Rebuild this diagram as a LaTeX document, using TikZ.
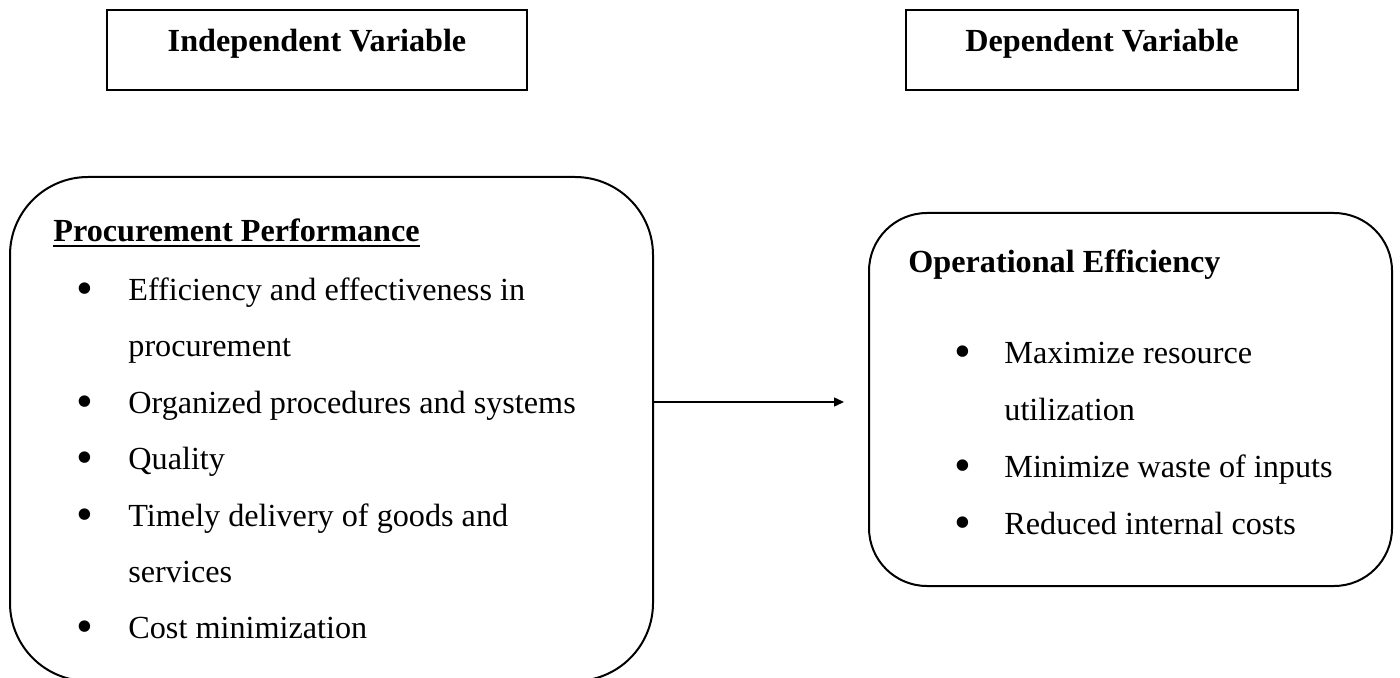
\documentclass[tikz,border=0pt]{standalone}
\usepackage{fontspec}
\setmainfont{Liberation Serif}
\usetikzlibrary{arrows.meta}
\newcommand\thickul[1]{\setbox0=\hbox{#1}\rlap{\rule[-2.6pt]{\wd0}{1.3pt}}\box0}
\begin{document}
\begin{tikzpicture}[x=0.5pt,y=-0.5pt,
  txt/.style={anchor=base west,inner sep=0pt,font=\fontsize{16.1}{19}\selectfont},
  hd/.style={txt,font=\fontsize{16.1}{19}\selectfont\bfseries},
  bul/.style={anchor=center,inner sep=0pt,font=\fontsize{24}{24}\selectfont},
  varbox/.style={draw,line width=1.3pt,inner xsep=0pt,inner ysep=0pt,minimum height=40pt,
    font=\fontsize{16.1}{19}\selectfont\bfseries,text height=21pt,text depth=19pt},
  roundbox/.style={draw,line width=1pt,inner sep=0pt},
  arr/.style={line width=0.7pt,-{Triangle[length=5pt,width=4.5pt]}}]
\useasboundingbox (0,0) rectangle (1400,678);
% top boxes
\node[varbox,minimum width=210pt] (iv) at (317,50) {Independent Variable};
\node[varbox,minimum width=196pt] (dv) at (1102,50) {Dependent Variable};
% rounded boxes
\node[roundbox,rounded corners=39pt,minimum width=321.5pt,minimum height=252pt] (L) at (331.5,429) {};
\node[roundbox,rounded corners=29pt,minimum width=261.5pt,minimum height=186.5pt] (R) at (1130.5,399.5) {};
% left box text
\node[hd] (lh) at (53,242) {\thickul{Procurement Performance}};
\node[bul] (lb1) at (85,294) {•};
\node[txt] (l1) at (128,300) {Efficiency and effectiveness in};
\node[txt] (l1b) at (128,356) {procurement};
\node[bul] (lb2) at (85,407) {•};
\node[txt] (l2) at (128,413) {Organized procedures and systems};
\node[bul] (lb3) at (85,463) {•};
\node[txt] (l3) at (128,469) {Quality};
\node[bul] (lb4) at (85,520) {•};
\node[txt] (l4) at (128,526) {Timely delivery of goods and};
\node[txt] (l4b) at (128,582) {services};
\node[bul] (lb5) at (85,632) {•};
\node[txt] (l5) at (128,638) {Cost minimization};
% right box text
\node[hd] (rh) at (908,272) {Operational Efficiency};
\node[bul] (rb1) at (963,357) {•};
\node[txt] (r1) at (1004,363) {Maximize resource};
\node[txt] (r1b) at (1004,420) {utilization};
\node[bul] (rb2) at (963,471) {•};
\node[txt] (r2) at (1004,477) {Minimize waste of inputs};
\node[bul] (rb3) at (963,528) {•};
\node[txt] (r3) at (1004,534) {Reduced internal costs};
% arrow
\coordinate (ay) at (0,402);
\draw[arr,shorten >=12pt] (L.east |- ay) -- (R.west |- ay);
\end{tikzpicture}
\end{document}
